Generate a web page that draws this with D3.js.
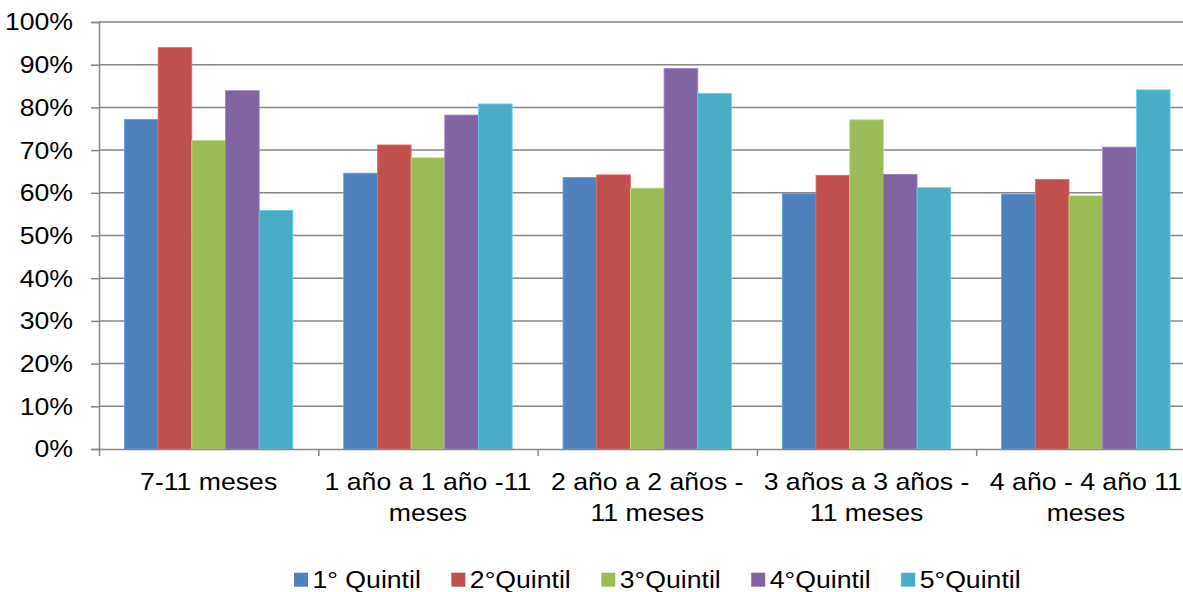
<!DOCTYPE html>
<html>
<head>
<meta charset="utf-8">
<script src="https://cdn.jsdelivr.net/npm/d3@7/dist/d3.min.js"></script>
<style>
  html, body { margin: 0; padding: 0; background: #fff; }
  svg { display: block; font-family: "Liberation Sans", Arial, sans-serif; }
</style>
</head>
<body>
<svg id="chart" width="1183" height="592"></svg>
<script>
// Age groups (line breaks as printed under the axis)
const categories = [
  "7-11 meses",
  "1 año a 1 año -11\nmeses",
  "2 año a 2 años -\n11 meses",
  "3 años a 3 años -\n11 meses",
  "4 año - 4 año 11\nmeses"
];
const seriesNames = ["1° Quintil", "2°Quintil", "3°Quintil", "4°Quintil", "5°Quintil"];
const seriesColors = ["#4F81BD", "#C0504D", "#9BBB59", "#8064A2", "#4BACC6"];

// Share per quintil, one array per quintil, ordered as the categories
const q1 = [0.772, 0.646, 0.636, 0.598, 0.597];
const q2 = [0.940, 0.712, 0.642, 0.641, 0.631];
const q3 = [0.723, 0.682, 0.611, 0.771, 0.593];
const q4 = [0.839, 0.782, 0.891, 0.643, 0.707];
const q5 = [0.559, 0.808, 0.833, 0.612, 0.841];
const seriesValues = [q1, q2, q3, q4, q5];

const yTicks = [0, 0.1, 0.2, 0.3, 0.4, 0.5, 0.6, 0.7, 0.8, 0.9, 1.0];

const svg = d3.select("#chart");
const plotLeft = 99, plotTop = 22, plotBottom = 449, catStep = 219.3;
const fontSize = 24, stretch = 1.11;
const gridColor = "#878787";

const x = d3.scaleBand()
  .domain(categories)
  .range([plotLeft, plotLeft + catStep * categories.length])
  .paddingInner(0).paddingOuter(0);

const xs = d3.scaleBand()
  .domain(seriesNames)
  .range([0, x.bandwidth()])
  .paddingInner(0).paddingOuter(0.755);

const y = d3.scaleLinear().domain([0, 1]).range([plotBottom, plotTop]);

// horizontal gridlines
svg.append("g")
  .selectAll("line")
  .data(yTicks.filter(d => d > 0))
  .join("line")
  .attr("x1", plotLeft).attr("x2", x.range()[1])
  .attr("y1", d => y(d)).attr("y2", d => y(d))
  .attr("stroke", gridColor).attr("stroke-width", 1.5);

// bars
const rows = categories.map((c, i) => seriesNames.map((s, j) => ({ c, s, j, v: seriesValues[j][i] })));
svg.append("g")
  .selectAll("g")
  .data(rows)
  .join("g")
  .attr("transform", d => `translate(${x(d[0].c)},0)`)
  .selectAll("rect")
  .data(d => d)
  .join("rect")
  .attr("x", d => xs(d.s))
  .attr("width", xs.bandwidth())
  .attr("y", d => y(d.v))
  .attr("height", d => y(0) - y(d.v))
  .attr("fill", d => seriesColors[d.j])
  .attr("stroke", d => d3.color(seriesColors[d.j]).brighter(0.6))
  .attr("stroke-width", 0.8);

// y axis
const yAxis = d3.axisLeft(y).tickValues(yTicks).tickSize(8).tickFormat("");
const gy = svg.append("g").attr("transform", `translate(${plotLeft},0)`).call(yAxis);
gy.select(".domain").attr("stroke", gridColor).attr("stroke-width", 1.5);
gy.selectAll(".tick line").attr("stroke", gridColor).attr("stroke-width", 1.5);

svg.append("g")
  .selectAll("text")
  .data(yTicks)
  .join("text")
  .attr("transform", d => `translate(73,${y(d)}) scale(${stretch},1)`)
  .attr("dy", "0.35em")
  .attr("text-anchor", "end")
  .attr("font-size", fontSize)
  .attr("fill", "#000")
  .text(d3.format(".0%"));

// x axis with ticks at category boundaries
const boundaries = d3.range(categories.length + 1).map(i => plotLeft + i * catStep);
const xb = d3.scaleLinear().domain([plotLeft, x.range()[1]]).range([plotLeft, x.range()[1]]);
const gx = svg.append("g").attr("transform", `translate(0,${plotBottom})`)
  .call(d3.axisBottom(xb).tickValues(boundaries).tickSize(7).tickFormat("").tickSizeOuter(0));
gx.select(".domain").attr("stroke", gridColor).attr("stroke-width", 1.5);
gx.selectAll(".tick line").attr("stroke", gridColor).attr("stroke-width", 1.5);

// category labels
const lbl = svg.append("g")
  .selectAll("g")
  .data(categories)
  .join("g")
  .attr("transform", d => `translate(${x(d) + x.bandwidth() / 2},490) scale(${stretch},1)`);
lbl.selectAll("text")
  .data(d => d.split("\n"))
  .join("text")
  .attr("y", (d, i) => i * 31.5)
  .attr("text-anchor", "middle")
  .attr("font-size", fontSize)
  .attr("fill", "#000")
  .text(d => d);

// legend
const legend = svg.append("g");
const items = legend.selectAll("g")
  .data(seriesNames)
  .join("g");
items.append("rect")
  .attr("width", 14).attr("height", 14)
  .attr("y", -15.6)
  .attr("fill", (d, i) => seriesColors[i]);
items.append("text")
  .attr("transform", `translate(18.5,0) scale(${stretch},1)`)
  .attr("font-size", fontSize)
  .attr("fill", "#000")
  .text(d => d);
const widths = [];
items.each(function () {
  widths.push(18.5 + this.querySelector("text").getComputedTextLength() * stretch);
});
const gap = 30.5;
let cursor = 294;
items.attr("transform", (d, i) => {
  const tx = cursor;
  cursor += widths[i] + gap;
  return `translate(${tx},588.3)`;
});
</script>
</body>
</html>
